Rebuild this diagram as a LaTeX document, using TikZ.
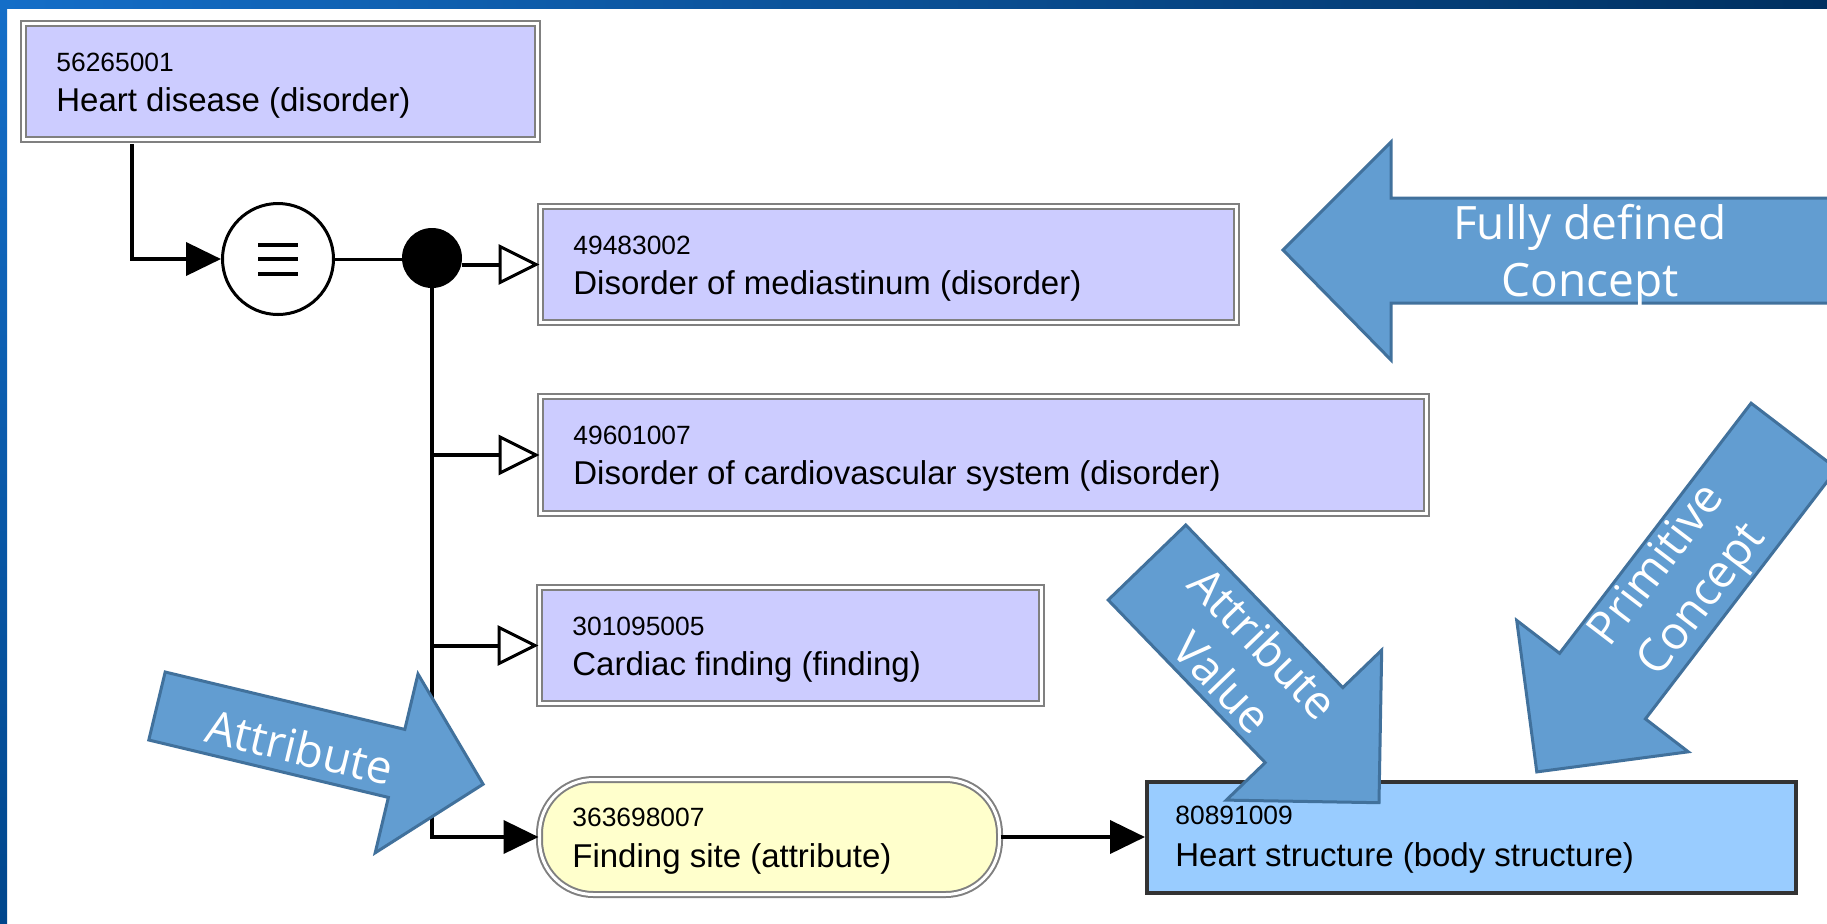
\documentclass[tikz,border=0pt]{standalone}
\usepackage{fontspec}
\setmainfont{Liberation Sans}
\newfontfamily\calfont{Open Sans}
\usetikzlibrary{arrows.meta,calc,fit}
\definecolor{lav}{HTML}{CCCCFF}
\definecolor{pale}{HTML}{FFFFCC}
\definecolor{sky}{HTML}{99CCFF}
\definecolor{calfill}{HTML}{629DD1}
\definecolor{calline}{HTML}{41719C}
\definecolor{navy}{RGB}{0,48,96}
\definecolor{topblue}{RGB}{20,110,200}
\definecolor{leftnavy}{RGB}{0,70,140}
\begin{document}
\begin{tikzpicture}[x=0.5pt,y=-0.5pt,
  conn/.style={line width=2pt, draw=black},
  fulltip/.style={-{Triangle[length=17.5pt,width=16.5pt]}},
  opentip/.style={-{Triangle[open,length=20.5pt,width=20pt,line width=1.5pt,fill=white]}},
  concept/.style={draw=black!50, double=white, line width=1pt, double distance=1.5pt, fill=lav, inner sep=0pt},
  attrbox/.style={concept, fill=pale, rounded corners=27pt},
  valbox/.style={draw=black!80, line width=2pt, fill=sky, inner sep=0pt},
  idtxt/.style={anchor=base west, inner sep=0pt, font=\fontsize{13.2}{15}\selectfont},
  nametxt/.style={anchor=base west, inner sep=0pt, font=\fontsize{16.5}{19}\selectfont},
  callout/.style={fill=calfill, draw=calline, line width=1.5pt, line join=miter},
  calltext/.style={text=white, align=center, inner sep=0pt, font=\calfont\fontsize{23}{28.5}\selectfont}
]
\useasboundingbox (0,0) rectangle (1827,923);
\fill[white] (0,0) rectangle (1827,923);
\shade[left color=topblue, right color=navy] (0,0) rectangle (1827,8);
\shade[top color=topblue, bottom color=leftnavy] (0,0) rectangle (7,923);

% concept boxes
\node[concept, fit={(23.5,23.5) (537.5,139.5)}] (hd) {};
\node[idtxt] (hdid) at ($(hd.north west)+(33.5,48.5)$) {56265001};
\node[nametxt] (hdname) at ($(hd.north west)+(33.5,88.5)$) {Heart disease (disorder)};

\node[concept, fit={(540.5,206.5) (1236.5,322.5)}] (b2) {};
\node[idtxt] (b2id) at ($(b2.north west)+(33.5,48.5)$) {49483002};
\node[nametxt] (b2name) at ($(b2.north west)+(33.5,88.5)$) {Disorder of mediastinum (disorder)};

\node[concept, fit={(540.5,396.5) (1426.5,513.5)}] (b3) {};
\node[idtxt] (b3id) at ($(b3.north west)+(33.5,48.5)$) {49601007};
\node[nametxt] (b3name) at ($(b3.north west)+(33.5,88.5)$) {Disorder of cardiovascular system (disorder)};

\node[concept, fit={(539.5,587.5) (1041.5,703.5)}] (b4) {};
\node[idtxt] (b4id) at ($(b4.north west)+(33.5,48.5)$) {301095005};
\node[nametxt] (b4name) at ($(b4.north west)+(33.5,88.5)$) {Cardiac finding (finding)};

\node[attrbox, fit={(539.5,779.5) (999.5,894.5)}] (fs) {};
\node[idtxt] (fsid) at ($(fs.north west)+(33.5,47.5)$) {363698007};
\node[nametxt] (fsname) at ($(fs.north west)+(33.5,88.5)$) {Finding site (attribute)};

\node[valbox, fit={(1147,782) (1796,893)}] (hs) {};
\node[idtxt] (hsid) at ($(hs.north west)+(30,44)$) {80891009};
\node[nametxt] (hsname) at ($(hs.north west)+(30,86)$) {Heart structure (body structure)};

% equivalence and conjunction
\node[circle, draw, line width=1.5pt, minimum size=55.5pt, inner sep=0pt, fill=white] (eq) at (278,259) {};
\draw[line width=2pt] ($(eq.center)+(-20,-14)$) -- ($(eq.center)+(20,-14)$);
\draw[line width=2pt] ($(eq.center)+(-20,0)$) -- ($(eq.center)+(20,0)$);
\draw[line width=2pt] ($(eq.center)+(-20,15)$) -- ($(eq.center)+(20,15)$);
\node[circle, fill=black, minimum size=30pt, inner sep=0pt] (dot) at (432,258) {};

% connectors
\draw[conn, fulltip] ($(hd.south west)+(109.5,3.5)$) |- (eq.west);
\draw[conn, line width=1.5pt] (eq.east) -- (eq.east -| dot.west);
\draw[conn, opentip] (dot.east |- b2.west) -- (b2.west);
\draw[conn, fulltip] (dot.south) |- (fs.west);
\draw[conn, opentip] (dot.south |- b3.west) -- (b3.west);
\draw[conn, opentip] (dot.south |- b4.west) -- (b4.west);
\draw[conn, fulltip] (fs.east) -- (fs.east -| hs.west);

% callout arrows
\filldraw[callout] (1840,198) -- (1391,198) -- (1391,142) -- (1283,250) -- (1391,360) -- (1391,303) -- (1840,303) -- cycle;
\node[calltext] (fdtxt) at (1590,256) {Fully defined\\Concept};

\filldraw[callout] (1185.8,525) -- (1342.8,687.6) -- (1381.7,650.1) -- (1379,802.7) -- (1226.3,800.1) -- (1265.2,762.6) -- (1108.2,600) -- cycle;
\node[calltext, rotate=-46] (avtxt) at (1243.6,662.5) {Attribute\\Value};

\filldraw[callout] (1836.9,468.8) -- (1645.4,718.9) -- (1688.3,751.8) -- (1536.8,771.9) -- (1516.7,620.4) -- (1559.6,653.3) -- (1751.1,403.2) -- cycle;
\node[calltext, rotate=52.6] (pctxt) at (1680.9,583.7) {Primitive\\Concept};

\filldraw[callout] (165.2,672) -- (404.8,729.4) -- (418,674) -- (483.1,784.2) -- (375.2,852.8) -- (388.4,797.4) -- (148.8,740) -- cycle;
\node[calltext, rotate=-13.5] (attxt) at (300,747) {Attribute};
\end{tikzpicture}
\end{document}
